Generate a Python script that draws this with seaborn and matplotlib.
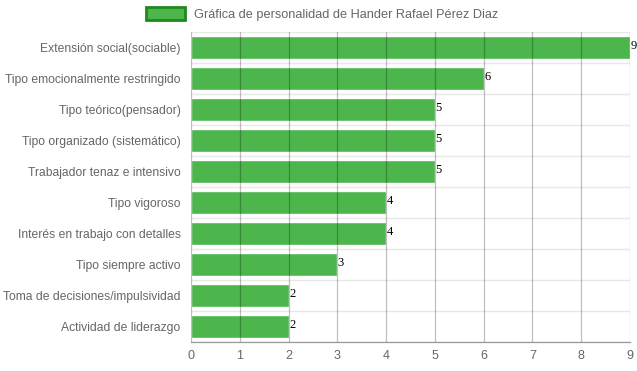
import matplotlib
matplotlib.use("Agg")
import matplotlib.pyplot as plt
import seaborn as sns
import pandas as pd
from matplotlib.patches import Patch

traits = [
    "Extensión social(sociable)",
    "Tipo emocionalmente restringido",
    "Tipo teórico(pensador)",
    "Tipo organizado (sistemático)",
    "Trabajador tenaz e intensivo",
    "Tipo vigoroso",
    "Interés en trabajo con detalles",
    "Tipo siempre activo",
    "Toma de decisiones/impulsividad",
    "Actividad de liderazgo",
]
scores = [9, 6, 5, 5, 5, 4, 4, 3, 2, 2]
x_ticks = list(range(0, 10))
legend_label = "Gráfica de personalidad de Hander Rafael Pérez Diaz"

df = pd.DataFrame({"trait": traits, "score": scores})

sns.set_style("white")
plt.rcParams["font.family"] = ["Liberation Sans", "DejaVu Sans"]

fig = plt.figure(figsize=(6.37, 3.71), dpi=100)
ax = fig.add_axes([191 / 637, 1 - 342 / 371, 439 / 637, 310 / 371])

bar_color = "#4cb64c"
sns.barplot(data=df, x="score", y="trait", orient="h", color=bar_color,
            saturation=1, width=0.76, ax=ax, zorder=2)

ax.set_xlim(0, 9)
ax.set_ylim(len(traits) - 0.5, -0.5)
ax.set_xticks(x_ticks)
ax.set_xlabel("")
ax.set_ylabel("")

# vertical grid over the bars (semi-transparent like the original)
for xv in x_ticks:
    ax.axvline(xv, color="black", alpha=0.25, lw=0.9, zorder=3)
# horizontal separators between categories
for i in range(len(traits) + 1):
    ax.axhline(i - 0.5, color="#e8e8e8", lw=1, zorder=1)

for s in ["top", "right"]:
    ax.spines[s].set_visible(False)
ax.spines["left"].set_visible(False)
ax.spines["bottom"].set_color("#999999")
ax.spines["bottom"].set_linewidth(0.9)

ax.tick_params(axis="x", length=5, color="#bbbbbb", labelcolor="#666666",
               labelsize=9.0, pad=1)
ax.tick_params(axis="y", length=7.5, color="#e8e8e8", labelcolor="#666666",
               labelsize=8.75, pad=0)

for i, v in enumerate(scores):
    ax.text(v + 0.01, i - 0.04, str(v), ha="left", va="center",
            fontsize=9.0, color="black", family=["Liberation Serif", "DejaVu Serif"],
            zorder=4)

handle = Patch(facecolor=bar_color, edgecolor="#1e8a1e", linewidth=2)
fig.legend(handles=[handle], labels=[legend_label], loc="center",
           bbox_to_anchor=(322 / 637, 1 - 14 / 371), frameon=False,
           fontsize=9.2, handlelength=3.0, handleheight=1.1, handletextpad=0.7,
           labelcolor="#666666")

fig.savefig("out.png", dpi=100)
